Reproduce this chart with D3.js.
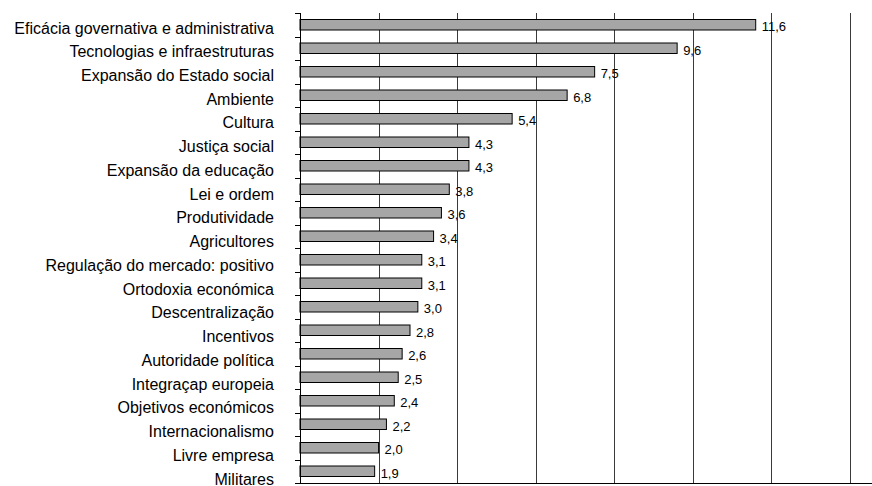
<!DOCTYPE html>
<html><head><meta charset="utf-8">
<script src="https://cdn.jsdelivr.net/npm/d3@7"></script>
<style>body{margin:0;background:#fff;} svg{display:block;font-family:"Liberation Sans",Arial,sans-serif;}</style>
</head><body>
<script>
const categories = ["Eficácia governativa e administrativa","Tecnologias e infraestruturas","Expansão do Estado social","Ambiente","Cultura","Justiça social","Expansão da educação","Lei e ordem","Produtividade","Agricultores","Regulação do mercado: positivo","Ortodoxia económica","Descentralização","Incentivos","Autoridade política","Integraçap europeia","Objetivos económicos","Internacionalismo","Livre empresa","Militares"];
const values = [11.6,9.6,7.5,6.8,5.4,4.3,4.3,3.8,3.6,3.4,3.1,3.1,3.0,2.8,2.6,2.5,2.4,2.2,2.0,1.9];
const valueLabels = ["11,6","9,6","7,5","6,8","5,4","4,3","4,3","3,8","3,6","3,4","3,1","3,1","3,0","2,8","2,6","2,5","2,4","2,2","2,0","1,9"];
const gridTicks = [2,4,6,8,10,12,14];

const W=872,H=486;
const svg=d3.select("body").append("svg").attr("width",W).attr("height",H);
const x=d3.scaleLinear().domain([0,14]).range([300,850]);
const y=d3.scaleBand().domain(categories).range([13,483]).paddingInner(0).paddingOuter(0);
const yLab=d3.scalePoint().domain(categories).range([28,479]);

// gridlines
svg.append("g").selectAll("line").data(gridTicks).join("line")
  .attr("x1",d=>Math.round(x(d))+0.5).attr("x2",d=>Math.round(x(d))+0.5)
  .attr("y1",13).attr("y2",483).attr("stroke","#3a3a3a").attr("stroke-width",1);

// bars
const bh=10.5;
svg.append("g").selectAll("rect").data(values).join("rect")
  .attr("x",x(0)).attr("y",(d,i)=>y(categories[i])+y.bandwidth()/2-bh/2)
  .attr("width",d=>x(d)-x(0)).attr("height",bh)
  .attr("fill","#a6a6a6").attr("stroke","#000").attr("stroke-width",1);

// value labels
svg.append("g").selectAll("text").data(values).join("text")
  .attr("x",d=>x(d)+6).attr("y",(d,i)=>y(categories[i])+y.bandwidth()/2+2)
  .attr("dominant-baseline","central").attr("font-size",13).attr("fill","#000")
  .text((d,i)=>valueLabels[i]);

// left axis line and ticks
const yAxis=svg.append("g");
yAxis.append("line").attr("x1",300.5).attr("x2",300.5).attr("y1",13).attr("y2",483).attr("stroke","#000");
const bounds=categories.map(c=>y(c)).concat([y.range()[1]]);
yAxis.selectAll("line.t").data(bounds).join("line").attr("class","t")
  .attr("x1",295).attr("x2",300).attr("y1",d=>Math.round(d)+0.5).attr("y2",d=>Math.round(d)+0.5).attr("stroke","#000");
// bottom axis line
svg.append("line").attr("x1",300).attr("x2",872).attr("y1",483.5).attr("y2",483.5).attr("stroke","#000").attr("stroke-width",1);

// category labels
svg.append("g").selectAll("text").data(categories).join("text")
  .attr("x",274).attr("y",d=>yLab(d)).attr("text-anchor","end").attr("dominant-baseline","central")
  .attr("font-size",16).attr("fill","#000").text(d=>d);
</script>
</body></html>
